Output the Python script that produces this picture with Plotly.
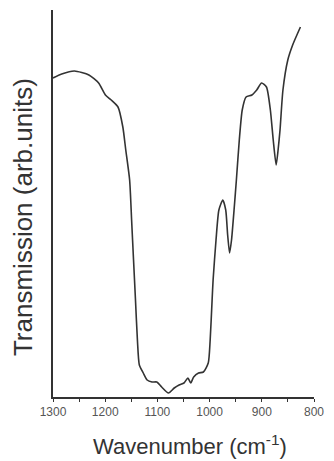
import plotly.graph_objects as go

# FTIR transmission spectrum (wavenumber in cm^-1, transmission in arbitrary units)
wavenumber = [1300.0, 1283.3, 1259.1, 1231.2, 1212.6, 1199.6, 1188.5, 1175.5, 1166.2, 1160.6,
              1153.2, 1149.4, 1145.7, 1142.0, 1138.3, 1134.6, 1127.1, 1119.7, 1110.4, 1101.1,
              1091.8, 1078.8, 1067.7, 1058.4, 1049.1, 1041.6, 1036.1, 1030.5, 1021.2, 1011.9,
              1002.6, 998.9, 995.2, 993.3, 987.7, 982.2, 974.7, 969.1, 965.4, 961.7,
              958.0, 952.4, 948.7, 943.1, 937.5, 930.1, 919.0, 909.7, 900.4, 891.1,
              883.6, 878.1, 872.5, 868.8, 865.1, 859.5, 850.2, 840.9, 826.0]
transmission = [319, 323, 326, 322, 314, 302, 297, 290, 270, 247,
                217, 177, 137, 97, 57, 32, 24, 17, 15, 15,
                10, 4, 9, 12, 14, 19, 14, 20, 24, 25,
                34, 57, 97, 117, 157, 187, 197, 187, 162, 144,
                157, 192, 217, 257, 287, 300, 302, 307, 314, 310,
                287, 257, 232, 247, 267, 307, 337, 352, 370]

x_ticks = [1300, 1200, 1100, 1000, 900, 800]
x_ticklabels = [str(v) for v in x_ticks]

FONT = "Liberation Sans, Arial, sans-serif"

fig = go.Figure()
fig.add_trace(go.Scatter(
    x=wavenumber, y=transmission, mode="lines",
    line=dict(color="#333333", width=1.6, shape="spline", smoothing=0.6),
    showlegend=False, hoverinfo="skip",
))

fig.update_layout(
    width=334, height=461,
    margin=dict(l=53, r=12, t=10, b=64),
    paper_bgcolor="white", plot_bgcolor="white",
    font=dict(family=FONT, color="#333333"),
    xaxis=dict(
        range=[1300, 800], showgrid=False, zeroline=False,
        showline=True, linecolor="#333333", linewidth=1.5,
        ticks="outside", ticklen=3, tickwidth=1, tickcolor="#333333",
        tickvals=x_ticks, ticktext=x_ticklabels,
        minor=dict(dtick=50, ticks="outside", ticklen=3, tickwidth=1, tickcolor="#333333"),
        tickfont=dict(size=12, color="#555555", family=FONT),
    ),
    yaxis=dict(
        range=[0, 387], showgrid=False, zeroline=False,
        showline=True, linecolor="#333333", linewidth=1.5,
        showticklabels=False, ticks="",
    ),
    annotations=[
        dict(text="Transmission (arb.units)", xref="paper", yref="paper",
             x=0, y=0.465, xshift=-30, xanchor="center", yanchor="middle",
             textangle=-90, showarrow=False,
             font=dict(size=26, color="#333333", family=FONT)),
        dict(text="Wavenumber (cm<sup>-1</sup>)", xref="paper", yref="paper",
             x=0.524, y=0, yshift=-48, xanchor="center", yanchor="middle",
             showarrow=False,
             font=dict(size=22, color="#333333", family=FONT)),
    ],
)

fig.write_html("out.html")
